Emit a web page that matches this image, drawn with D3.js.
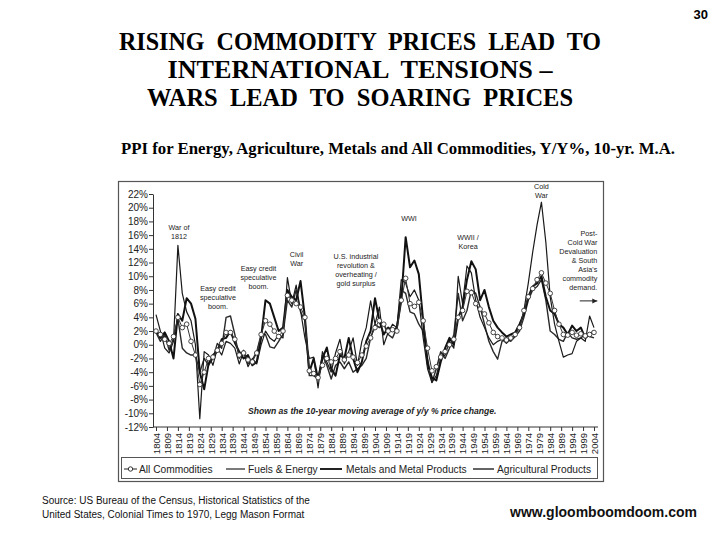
<!DOCTYPE html>
<html><head><meta charset="utf-8">
<script src="https://cdn.jsdelivr.net/npm/d3@7"></script>
<style>
html,body{margin:0;padding:0;background:#fff;}
svg{display:block;}
</style></head>
<body>
<svg id="c" width="720" height="540"></svg>
<script>
// ---------- DATA ----------
const years = [1804,1806,1808,1810,1812,1814,1816,1818,1820,1822,1824,1826,1828,1830,1832,1834,1836,1838,1840,1842,1844,1846,1848,1850,1852,1854,1856,1858,1860,1862,1864,1866,1868,1870,1872,1874,1876,1878,1880,1882,1884,1886,1888,1890,1892,1894,1896,1898,1900,1902,1904,1906,1908,1910,1912,1914,1916,1918,1920,1922,1924,1926,1928,1930,1932,1934,1936,1938,1940,1942,1944,1946,1948,1950,1952,1954,1956,1958,1960,1962,1964,1966,1968,1970,1972,1974,1976,1978,1980,1982,1984,1986,1988,1990,1992,1994,1996,1998,2000,2002,2004];

const allCommodities = [2.0,1.5,0.8,0.2,1.2,4.0,2.5,3.0,0.5,-1.5,-5.8,-4.0,-2.0,-1.8,-0.8,0.2,1.8,1.8,0.8,-1.5,-1.2,-2.2,-2.5,-1.2,1.5,3.5,3.0,2.0,1.2,2.0,7.2,6.5,6.0,5.5,4.0,-3.8,-4.2,-4.8,-3.0,-2.0,-2.5,-2.0,-1.0,-2.2,-1.5,-1.8,-2.6,-1.5,-0.2,1.0,2.5,3.5,3.0,2.0,2.2,2.0,6.5,9.7,6.0,5.6,6.2,3.5,-0.5,-3.8,-3.2,-1.8,-1.0,0.0,0.8,4.0,5.0,7.8,7.6,6.0,5.2,4.5,3.2,1.8,1.2,1.0,0.7,1.0,1.5,2.5,5.0,7.0,8.2,9.5,10.5,9.0,7.5,5.0,3.0,1.5,1.4,1.8,1.4,1.6,1.3,1.5,1.8];

const fuelsEnergy = [4.4,2.0,-0.5,-1.2,0.5,14.5,7.5,4.8,3.5,0.0,-10.8,-1.0,-1.5,-3.0,-0.5,-1.5,0.5,0.2,-0.5,-2.8,-1.0,-3.2,-2.0,-2.8,0.0,2.0,1.0,0.5,1.5,1.0,9.8,6.0,8.7,5.0,1.0,-2.0,-1.8,-6.3,-1.0,-2.5,-4.0,-1.2,0.8,-2.8,-1.0,1.0,-3.0,0.5,2.5,6.4,3.0,5.5,0.0,1.8,3.0,2.5,9.5,9.0,7.0,8.0,6.5,1.0,-3.5,-5.5,-4.5,-2.0,-1.5,0.5,-0.5,10.0,6.0,11.5,10.5,6.5,4.0,2.5,1.0,0.0,0.5,0.8,0.2,0.8,1.5,2.5,5.0,9.0,13.5,17.5,20.8,15.0,7.0,3.0,0.5,-1.8,-1.5,-1.3,0.5,1.0,0.5,4.2,2.5];

const metals = [2.2,1.0,1.8,0.5,-2.0,4.5,3.5,6.8,6.0,3.8,-4.0,-6.5,-2.8,-1.5,-1.0,0.8,1.0,2.0,0.3,-1.0,-2.0,-1.5,-3.0,-2.5,1.0,6.5,6.0,4.0,2.0,2.5,8.0,7.0,6.5,9.3,4.0,-4.0,-2.0,-5.0,-2.0,-0.4,-3.5,-4.5,-1.5,-2.0,1.0,-2.0,-4.0,-2.5,0.5,2.0,6.8,3.5,1.5,2.5,2.0,2.5,6.5,15.7,11.3,12.3,10.3,3.5,-2.8,-4.8,-5.2,-2.5,-0.5,1.0,0.0,4.0,5.5,9.5,12.2,11.0,6.5,8.0,5.5,3.5,2.5,1.8,1.2,1.5,1.8,3.0,4.5,7.0,8.5,9.0,10.0,7.0,5.0,4.5,3.0,2.5,1.5,2.8,2.0,2.5,1.0,1.5,2.0];

const agricultural = [1.8,0.5,1.5,-0.8,1.0,3.8,-0.5,-1.2,-1.5,-1.5,-4.0,-2.0,-3.0,-2.0,0.2,-0.5,4.0,4.2,1.5,-2.0,-0.8,-2.8,-2.2,-1.0,1.5,1.5,-0.3,-0.5,0.5,1.5,6.5,5.5,8.0,4.8,3.5,-4.5,-4.5,-5.0,-1.5,-3.0,-5.0,-3.0,-2.5,-3.5,-2.5,-4.0,-3.5,-3.0,-2.0,1.0,3.0,2.5,3.0,1.5,1.0,2.5,8.0,7.5,4.8,4.5,3.0,2.0,-2.0,-5.5,-3.5,-1.0,-2.0,-0.5,1.5,7.5,3.5,5.0,8.0,7.5,5.5,3.0,0.5,-1.0,-2.1,0.5,1.0,0.5,1.2,2.0,4.0,6.5,8.0,8.5,9.5,6.5,2.0,1.5,0.8,0.5,1.8,1.0,0.8,1.0,1.5,1.2,1.0];

const yTicks = [-12,-10,-8,-6,-4,-2,0,2,4,6,8,10,12,14,16,18,20,22];
const xTickLabels = [1804,1809,1814,1819,1824,1829,1834,1839,1844,1849,1854,1859,1864,1869,1874,1879,1884,1889,1894,1899,1904,1909,1914,1919,1924,1929,1934,1939,1944,1949,1954,1959,1964,1969,1974,1979,1984,1989,1994,1999,2004];

const seriesNames = ["All Commodities","Fuels & Energy","Metals and Metal Products","Agricultural Products"];

const titleLines = ["RISING  COMMODITY  PRICES  LEAD  TO","INTERNATIONAL  TENSIONS –","WARS  LEAD  TO  SOARING  PRICES"];
const subtitle = "PPI for Energy, Agriculture, Metals and All Commodities, Y/Y%, 10-yr. M.A.";
const sourceLines = ["Source: US Bureau of the Census, Historical Statistics of the","United States, Colonial Times to 1970, Legg Mason Format"];

// annotations anchored at (year, value)
const notes = [
  {year:1814.5, value:16.7, lines:["War of","1812"], anchor:"middle"},
  {year:1832.3, value:7.8, lines:["Easy credit","speculative","boom."], anchor:"middle"},
  {year:1850.8, value:10.7, lines:["Easy credit","speculative","boom."], anchor:"middle"},
  {year:1868.2, value:12.8, lines:["Civil","War"], anchor:"middle"},
  {year:1895.3, value:12.5, lines:["U.S. industrial","revolution &","overheating /","gold surplus"], anchor:"middle"},
  {year:1919.5, value:18.0, lines:["WWI"], anchor:"middle"},
  {year:1946.5, value:15.3, lines:["WWII /","Korea"], anchor:"middle"},
  {year:1980.0, value:22.7, lines:["Cold","War"], anchor:"middle"},
  {year:2005.5, value:15.9, lines:["Post-","Cold War","Devaluation","& South","Asia's","commodity","demand."], anchor:"end"}
];

// ---------- CHART ----------
const svg = d3.select("#c");
const x = d3.scaleLinear().domain([1804, 2004]).range([156, 594]);
const y = d3.scaleLinear().domain([-12, 22]).range([427, 194]);
const sans = "Arial, 'Liberation Sans', sans-serif";

// titles
svg.append("text").attr("x",708).attr("y",19).attr("text-anchor","end")
  .attr("font-family",sans).attr("font-weight","bold").attr("font-size",13).text("30");

const titleSpec = [{cx:360, y:50, w:482},{cx:360, y:78, w:385},{cx:360, y:106, w:426}];
titleLines.forEach((t,i)=>{
  svg.append("text").attr("x",titleSpec[i].cx - titleSpec[i].w/2).attr("y",titleSpec[i].y)
    .attr("font-family","'Liberation Serif', 'Times New Roman', serif").attr("font-weight","bold")
    .attr("font-size",25).attr("textLength",titleSpec[i].w).attr("lengthAdjust","spacingAndGlyphs")
    .style("white-space","pre").text(t);
});
svg.append("text").attr("x",121).attr("y",154).attr("textLength",554).attr("lengthAdjust","spacingAndGlyphs")
  .attr("font-family","'Liberation Serif', 'Times New Roman', serif").attr("font-weight","bold")
  .attr("font-size",17).text(subtitle);

// outer frame
svg.append("rect").attr("x",118.5).attr("y",181.5).attr("width",485).attr("height",300)
  .attr("fill","none").attr("stroke","#555").attr("stroke-width",1.2);

// axes
const yAxis = svg.append("g").attr("transform","translate(153,0)")
  .call(d3.axisLeft(y).tickValues(yTicks).tickFormat(d=>d+"%").tickSize(4).tickSizeOuter(0));
yAxis.select(".domain").attr("stroke","#333");
yAxis.selectAll(".tick line").attr("stroke","#333");
yAxis.selectAll("text").attr("font-family",sans).attr("font-size",10).attr("fill","#222").attr("x",-5);

const xAxis = svg.append("g").attr("transform","translate(0,427)")
  .call(d3.axisBottom(x).tickValues(xTickLabels).tickFormat(d=>String(d)).tickSize(4).tickSizeOuter(0));
xAxis.select(".domain").attr("stroke","#333").attr("d","M153,0H598");
xAxis.selectAll(".tick line").attr("stroke","#333");
xAxis.selectAll("text").attr("font-family",sans).attr("font-size",9.5).attr("fill","#222")
  .attr("transform","rotate(-90)").attr("text-anchor","end").attr("x",-6).attr("y",0).attr("dy","0.35em");

// lines
const makeLine = vals => d3.line().x((d,i)=>x(years[i])).y(d=>y(d))(vals);
const lineStyles = [
  {vals:agricultural, w:1.4, c:"#2a2a2a"},
  {vals:metals, w:2.0, c:"#111"},
  {vals:fuelsEnergy, w:1.2, c:"#1a1a1a"},
  {vals:allCommodities, w:1.0, c:"#333"}
];
lineStyles.forEach(s=>{
  svg.append("path").attr("d",makeLine(s.vals)).attr("fill","none")
    .attr("stroke",s.c).attr("stroke-width",s.w).attr("stroke-linejoin","round");
});
svg.append("g").selectAll("circle").data(allCommodities).join("circle")
  .attr("cx",(d,i)=>x(years[i])).attr("cy",d=>y(d)).attr("r",2.3)
  .attr("fill","#fff").attr("stroke","#333").attr("stroke-width",0.9);

// annotations
notes.forEach(n=>{
  const t = svg.append("text").attr("x",x(n.year)).attr("y",y(n.value)).attr("text-anchor",n.anchor)
    .attr("font-family",sans).attr("font-size",7.2).attr("fill","#222");
  n.lines.forEach((l,i)=>t.append("tspan").attr("x",x(n.year)).attr("dy",i===0?0:"1.25em").text(l));
});
// arrow
svg.append("line").attr("x1",x(1997.5)).attr("x2",x(2005.5)).attr("y1",y(6.4)).attr("y2",y(6.4)).attr("stroke","#222").attr("stroke-width",1);
svg.append("path").attr("d",`M${x(2005.5)},${y(6.4)} l-5,-2.5 v5 z`).attr("fill","#222");

svg.append("text").attr("x",x(1846)).attr("y",y(-10.1)).attr("font-family",sans)
  .attr("font-size",8.6).attr("font-weight","bold").attr("font-style","italic").attr("fill","#222")
  .text("Shown as the 10-year moving average of y/y % price change.");

// legend
const lg = svg.append("g");
lg.append("rect").attr("x",121.5).attr("y",457.5).attr("width",476).attr("height",21).attr("fill","#fff").attr("stroke","#555");
const legendItems = [
  {name:seriesNames[0], x0:124, x1:137, tx:139, w:1, marker:true},
  {name:seriesNames[1], x0:226, x1:245, tx:248, w:1.2},
  {name:seriesNames[2], x0:320, x1:342, tx:346, w:2},
  {name:seriesNames[3], x0:473, x1:494, tx:497, w:1.4}
];
legendItems.forEach(it=>{
  lg.append("line").attr("x1",it.x0).attr("x2",it.x1).attr("y1",469).attr("y2",469).attr("stroke","#222").attr("stroke-width",it.w);
  if(it.marker) lg.append("circle").attr("cx",(it.x0+it.x1)/2).attr("cy",469).attr("r",2.2).attr("fill","#fff").attr("stroke","#222").attr("stroke-width",0.9);
  lg.append("text").attr("x",it.tx).attr("y",472.5).attr("font-family",sans).attr("font-size",10.2).attr("fill","#222").text(it.name);
});

// footer
sourceLines.forEach((s,i)=>{
  svg.append("text").attr("x",42).attr("y",504+i*14).attr("font-family",sans)
    .attr("font-size",10).attr("fill","#111").text(s);
});
svg.append("text").attr("x",697).attr("y",517).attr("text-anchor","end").attr("font-family",sans)
  .attr("font-size",14).attr("font-weight","bold").attr("fill","#111").text("www.gloomboomdoom.com");
</script>
</body></html>
